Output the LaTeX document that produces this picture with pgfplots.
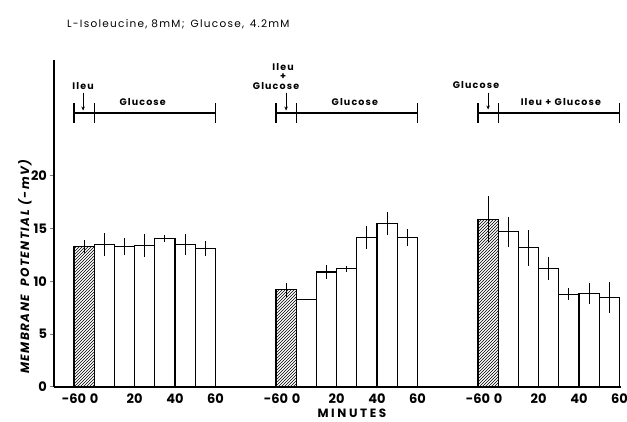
\documentclass[border=0pt]{standalone}
\usepackage{fontspec}
\setmainfont{Poppins}
\newfontfamily\lsfont[LetterSpace=12]{Poppins}
\newfontfamily\wsfont[LetterSpace=22]{Poppins}
\usepackage{pgfplots}
\pgfplotsset{compat=1.18}
\usetikzlibrary{patterns,arrows.meta}
\pgfplotsset{
  mybar/.style={ybar, bar width=1, bar shift=0pt, draw=black, line width=1.1pt,
    error bars/y dir=both, error bars/y explicit, error bars/error mark=none,
    error bars/error bar style={line width=1pt, solid}},
}
\begin{document}
\begin{tikzpicture}
\begin{axis}[
  x=20.2pt, y=10.55pt,
  xmin=-0.99, xmax=27.1, ymin=0, ymax=31,
  axis x line*=bottom, axis y line*=left,
  axis line style={line width=1.2pt},
  clip=false,
  xtick={0,1,3,5,7,10,11,13,15,17,20,21,23,25,27},
  xticklabels={-60,0,20,40,60,-60,0,20,40,60,-60,0,20,40,60},
  xtick style={draw=none},
  ytick={0,5,10,15,20},
  ytick style={line width=1pt},
  major tick length=3.5pt, tick align=outside,
  /pgf/number format/assume math mode=true,
  tick label style={font=\bfseries\fontsize{13}{13}\selectfont},
  xticklabel style={yshift=0pt},
]
% hatched baseline bars
\addplot+[mybar, fill=none, pattern=north east lines, mark=none] coordinates {
  (0.5,13.3) +- (0,0.6)
  (10.5,9.2) +- (0,0.65)
  (20.5,15.9) +- (0,2.2)
};
% group 1
\addplot+[mybar, fill=white, mark=none] coordinates {
  (1.5,13.5) +- (0,1.1)
  (2.5,13.3) +- (0,0.8)
  (3.5,13.4) +- (0,1.1)
  (4.5,14.1) +- (0,0.35)
  (5.5,13.5) +- (0,1.0)
  (6.5,13.1) +- (0,0.7)
};
% group 2
\addplot+[mybar, fill=white, mark=none] coordinates {
  (11.5,8.3) +- (0,0)
  (12.5,10.9) +- (0,0.7)
  (13.5,11.2) +- (0,0.3)
  (14.5,14.15) +- (0,1.1)
  (15.5,15.5) +- (0,1.1)
  (16.5,14.15) +- (0,0.8)
};
% group 3
\addplot+[mybar, fill=white, mark=none] coordinates {
  (21.5,14.7) +- (0,1.4)
  (22.5,13.2) +- (0,1.7)
  (23.5,11.2) +- (0,1.1)
  (24.5,8.8) +- (0,0.6)
  (25.5,8.85) +- (0,1.0)
  (26.5,8.5) +- (0,1.45)
};
% treatment brackets
\draw[line width=1.1pt] (axis cs:0,25.97) -- (axis cs:7,25.97);
\draw[line width=1.1pt] (axis cs:0,25.0) -- (axis cs:0,26.9);
\draw[line width=1.1pt] (axis cs:1,25.0) -- (axis cs:1,26.9);
\draw[line width=1.1pt] (axis cs:7,25.0) -- (axis cs:7,26.9);
\draw[line width=1.1pt] (axis cs:10,25.97) -- (axis cs:17,25.97);
\draw[line width=1.1pt] (axis cs:10,25.0) -- (axis cs:10,26.9);
\draw[line width=1.1pt] (axis cs:11,25.0) -- (axis cs:11,26.9);
\draw[line width=1.1pt] (axis cs:17,25.0) -- (axis cs:17,26.9);
\draw[line width=1.1pt] (axis cs:20,25.97) -- (axis cs:27,25.97);
\draw[line width=1.1pt] (axis cs:20,25.0) -- (axis cs:20,26.9);
\draw[line width=1.1pt] (axis cs:21,25.0) -- (axis cs:21,26.9);
\draw[line width=1.1pt] (axis cs:27,25.0) -- (axis cs:27,26.9);
\draw[line width=0.9pt,-{Stealth[length=4pt,width=3.5pt]}] (axis cs:0.45,27.9) -- (axis cs:0.45,26.2);
\draw[line width=0.9pt,-{Stealth[length=4pt,width=3.5pt]}] (axis cs:10.5,27.9) -- (axis cs:10.5,26.2);
\draw[line width=0.9pt,-{Stealth[length=4pt,width=3.5pt]}] (axis cs:20.5,27.9) -- (axis cs:20.5,26.3);
\begin{scope}[every node/.style={font=\lsfont\bfseries\fontsize{9.5}{10}\selectfont, inner sep=0pt}]
\node at (axis cs:0.45,28.5) {Ileu};
\node at (axis cs:3.4,27.05) {Glucose};
\node at (axis cs:10.35,30.35) {Ileu};
\node at (axis cs:10.35,29.4) {+};
\node at (axis cs:10.0,28.55) {Glucose};
\node at (axis cs:13.9,27.05) {Glucose};
\node at (axis cs:19.9,28.6) {Glucose};
\node at (axis cs:24.1,27.05) {Ileu\hspace{0.35em}+\hspace{0.35em}Glucose};
\end{scope}
\node[anchor=west, inner sep=0pt, font=\lsfont\fontsize{10.5}{10.5}\selectfont] at (axis cs:-0.35,34.4) {L-Isoleucine, 8mM;\hspace{0.2em} Glucose,\hspace{0.15em} 4.2mM};
\node[inner sep=0pt, font=\wsfont\bfseries\fontsize{12}{12}\selectfont] at (axis cs:13.76,-2.5) {MINUTES};
\node[inner sep=0pt, rotate=90, font=\lsfont\bfseries\itshape\fontsize{12}{13}\selectfont] at (axis cs:-2.43,11.4) {MEMBRANE\hspace{0.7em}POTENTIAL\hspace{0.4em}(-mV)};
\coordinate (bl) at (axis cs:-3.663,-3.318);
\coordinate (tr) at (axis cs:27.376,36.68);
\end{axis}
\pgfresetboundingbox
\path[use as bounding box] (bl) rectangle (tr);
\end{tikzpicture}
\end{document}
